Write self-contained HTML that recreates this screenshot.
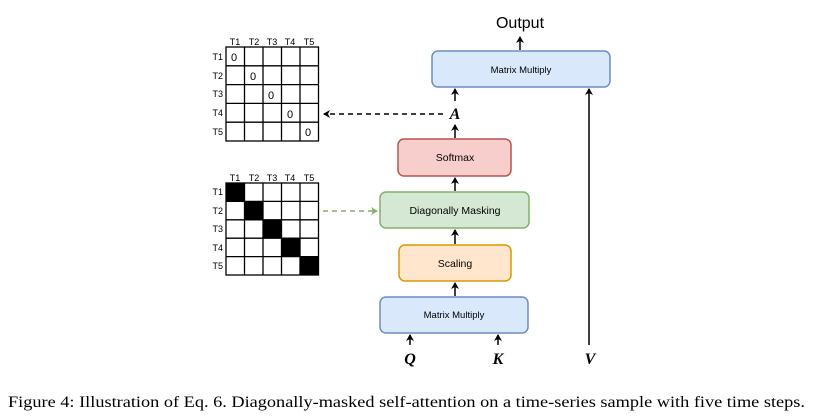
<!DOCTYPE html>
<html><head><meta charset="utf-8"><style>
html,body{margin:0;padding:0;background:#fff;width:823px;height:418px;overflow:hidden}
svg{display:block}
.s{font-family:"Liberation Sans",sans-serif}
</style></head><body>
<svg width="823" height="418" viewBox="0 0 823 418" xmlns="http://www.w3.org/2000/svg">
<defs>
<marker id="ah" markerWidth="8" markerHeight="8" refX="6" refY="4" orient="auto" markerUnits="userSpaceOnUse"><path d="M0,0 L7,4 L0,8 L2,4 Z" fill="#000"/></marker>
<marker id="ag" markerWidth="8" markerHeight="8" refX="6" refY="4" orient="auto" markerUnits="userSpaceOnUse"><path d="M0,0 L7,4 L0,8 L2,4 Z" fill="#82b366"/></marker>
</defs>
<g class="s" font-size="9" fill="#000">
<!-- top matrix -->
<g stroke="#000" stroke-width="1.3" fill="none">
<rect x="226" y="47" width="92.5" height="94"/>
<line x1="244.5" y1="47" x2="244.5" y2="141"/><line x1="263" y1="47" x2="263" y2="141"/><line x1="281.5" y1="47" x2="281.5" y2="141"/><line x1="300" y1="47" x2="300" y2="141"/>
<line x1="226" y1="65.8" x2="318.5" y2="65.8"/><line x1="226" y1="84.6" x2="318.5" y2="84.6"/><line x1="226" y1="103.4" x2="318.5" y2="103.4"/><line x1="226" y1="122.2" x2="318.5" y2="122.2"/>
</g>
<g text-anchor="middle"><text x="235" y="45">T1</text><text x="254" y="45">T2</text><text x="272" y="45">T3</text><text x="290" y="45">T4</text><text x="309" y="45">T5</text></g>
<g text-anchor="end"><text x="223" y="60">T1</text><text x="223" y="79">T2</text><text x="223" y="97">T3</text><text x="223" y="116">T4</text><text x="223" y="135">T5</text></g>
<g font-size="11" text-anchor="middle"><text x="234" y="61">0</text><text x="253" y="80">0</text><text x="271" y="99">0</text><text x="290" y="118">0</text><text x="308" y="136">0</text></g>
<!-- bottom matrix -->
<g fill="#000"><rect x="226" y="183" width="18.5" height="18.4"/><rect x="244.5" y="201.4" width="18.5" height="18.4"/><rect x="263" y="219.8" width="18.5" height="18.4"/><rect x="281.5" y="238.2" width="18.5" height="18.4"/><rect x="300" y="256.6" width="18.5" height="18.4"/></g>
<g stroke="#000" stroke-width="1.3" fill="none">
<rect x="226" y="183" width="92.5" height="92"/>
<line x1="244.5" y1="183" x2="244.5" y2="275"/><line x1="263" y1="183" x2="263" y2="275"/><line x1="281.5" y1="183" x2="281.5" y2="275"/><line x1="300" y1="183" x2="300" y2="275"/>
<line x1="226" y1="201.4" x2="318.5" y2="201.4"/><line x1="226" y1="219.8" x2="318.5" y2="219.8"/><line x1="226" y1="238.2" x2="318.5" y2="238.2"/><line x1="226" y1="256.6" x2="318.5" y2="256.6"/>
</g>
<g text-anchor="middle"><text x="235" y="181">T1</text><text x="254" y="181">T2</text><text x="272" y="181">T3</text><text x="290" y="181">T4</text><text x="309" y="181">T5</text></g>
<g text-anchor="end"><text x="223" y="195">T1</text><text x="223" y="214">T2</text><text x="223" y="232">T3</text><text x="223" y="251">T4</text><text x="223" y="269">T5</text></g>
</g>
<!-- boxes -->
<g class="s" font-size="10.5" text-anchor="middle" fill="#000" stroke-width="1.5">
<rect x="432" y="51" width="178" height="36" rx="6" fill="#dae8fc" stroke="#6c8ebf"/><text x="521" y="73" font-size="9.5">Matrix Multiply</text>
<rect x="398" y="139" width="113" height="37" rx="6" fill="#f8cecc" stroke="#b85450"/><text x="455" y="161">Softmax</text>
<rect x="380" y="192" width="149" height="36" rx="6" fill="#d5e8d4" stroke="#82b366"/><text x="455" y="214">Diagonally Masking</text>
<rect x="399" y="245" width="112" height="36" rx="6" fill="#ffe6cc" stroke="#d79b00"/><text x="455" y="267">Scaling</text>
<rect x="380" y="297" width="148" height="36" rx="6" fill="#dae8fc" stroke="#6c8ebf"/><text x="454" y="318" font-size="9.5">Matrix Multiply</text>
</g>
<!-- arrows -->
<g stroke="#000" stroke-width="1.5" fill="none">
<line x1="520" y1="50" x2="520" y2="37" marker-end="url(#ah)"/>
<line x1="455" y1="101" x2="455" y2="89" marker-end="url(#ah)"/>
<line x1="455" y1="138" x2="455" y2="125" marker-end="url(#ah)"/>
<line x1="455" y1="191" x2="455" y2="178" marker-end="url(#ah)"/>
<line x1="455" y1="244" x2="455" y2="230" marker-end="url(#ah)"/>
<line x1="455" y1="296" x2="455" y2="283" marker-end="url(#ah)"/>
<line x1="410" y1="345" x2="410" y2="335" marker-end="url(#ah)"/>
<line x1="498" y1="345" x2="498" y2="335" marker-end="url(#ah)"/>
<line x1="589" y1="345" x2="589" y2="89" marker-end="url(#ah)"/>
<line x1="443" y1="114" x2="324" y2="114" stroke-dasharray="5,4" marker-end="url(#ah)"/>
<line x1="323" y1="211" x2="377" y2="211" stroke="#82b366" stroke-dasharray="5,4" marker-end="url(#ag)"/>
</g>
<g font-family="'Liberation Serif',serif" font-style="italic" font-weight="bold" font-size="16" text-anchor="middle">
<text x="455" y="119">A</text><text x="410" y="364">Q</text><text x="498" y="364">K</text><text x="590" y="364">V</text>
</g>
<text x="520" y="28" class="s" font-size="16" text-anchor="middle">Output</text>
<text x="8" y="407" font-family="'Liberation Serif',serif" font-size="16" textLength="797" lengthAdjust="spacingAndGlyphs">Figure 4: Illustration of Eq. 6. Diagonally-masked self-attention on a time-series sample with five time steps.</text>
</svg>
</body></html>
